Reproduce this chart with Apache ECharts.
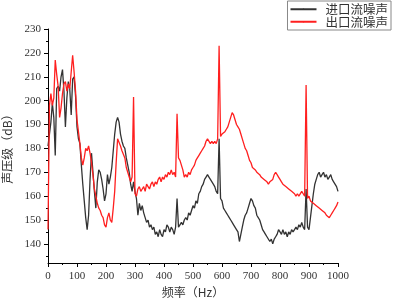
<!DOCTYPE html>
<html>
<head>
<meta charset="utf-8">
<script src="https://cdn.jsdelivr.net/npm/echarts@6/dist/echarts.min.js"></script>
<style>
  html, body { margin: 0; padding: 0; background: #fff; }
  #main { width: 393px; height: 300px; }
</style>
</head>
<body>
<div id="main"></div>
<script>
// 频率采样点 0~1000 Hz，步长 5
const freq = [];
for (let f = 0; f <= 1000; f += 5) freq.push(f);

// 进口流噪声 (dB)
const inletDb = [
  181,186,191,199,193,177,205,206,204,210, 213,204,189,201,208,205,194,209,210,202,
  189,184,182,173,165,158,151,146,152,167, 178,170,162,155,166,171,170,167,163,158,
  161,169,165,168,172,179,186,191,193,191, 186,183,181,180,176,173,170,165,162,166,
  162,159,152,157,154,156,153,151,149,150, 147,148,146,147,144,145,143,146,144,143,
  146,145,148,147,145,147,146,144,147,159, 147,148,149,148,150,151,150,153,152,154,
  156,155,158,157,161,162,164,165,167,168, 169,168,167,167,165,164,162,161,184,159,
  158,155,154,153,152,151,150,149,148,148, 146,145,141,144,147,150,152,153,155,157,
  159,158,156,155,152,151,150,148,146,145, 144,143,143,141,142,140,142,143,144,146,
  145,144,146,144,145,143,145,144,146,145, 146,147,146,148,147,149,147,146,163,147,
  146,151,156,161,165,167,169,170,168,169, 170,168,169,167,168,169,167,166,166,164,
  162
];

// 出口流噪声 (dB)
const outletDb = [
  146,198,203,198,201,217,211,206,193,197, 203,207,208,204,207,205,212,219,212,204,
  192,187,182,176,173,176,180,179,181,178, 174,169,163,160,157,155,154,152,151,148,
  147,151,153,150,149,155,162,174,184,184, 181,179,179,176,172,170,168,166,168,201.5,
  161,160,163,164,162,163,164,162,165,164, 163,165,166,164,166,165,167,168,166,168,
  167,169,168,170,169,171,169,170,168,194.5, 176,175,175,171,168,169,168,170,169,171,
  172,173,175,176,177,178,179,180,181,183, 184,184,182,183,182,183,182,184,223,185,
  186,186,187,188,189,191,193,195,194,192, 190,189,188,186,184,182,180,179,177,175,
  174,172,172,171,170,170,169,168,168,167, 167,166,165,166,166,167,169,170,169,168,
  167,166,165,165,164,164,163,163,162,162, 161,160,161,160,160,162,161,160,206.5,159,
  160,158,158,157,157,156,156,155,155,154, 154,153,152,152,151,152,153,154,155,156,
  157.5
];

// 坐标轴刻度
const yMajor = [140, 150, 160, 170, 180, 190, 200, 210, 220, 230];
const yMinor = [135, 145, 155, 165, 175, 185, 195, 205, 215, 225];

const serif = 'Liberation Serif';
const cjk = 'Noto Sans CJK SC';

const chart = echarts.init(document.getElementById('main'));
chart.setOption({
  animation: false,
  backgroundColor: '#fff',
  grid: {
    left: 48,
    top: 29,
    width: 290,
    height: 234,
    outerBoundsMode: 'none'
  },
  legend: {
    orient: 'vertical',
    right: 2,
    top: 1,
    itemWidth: 26,
    itemHeight: 2,
    itemGap: 0,
    padding: [2, 3, 2, 2],
    borderColor: '#888',
    borderWidth: 1,
    textStyle: {
      fontFamily: cjk,
      fontSize: 12.5,
      lineHeight: 12.5,
      color: '#333',
      padding: [0, 0, 0, 4]
    },
    data: ['进口流噪声', '出口流噪声']
  },
  xAxis: {
    type: 'value',
    min: 0,
    max: 1000,
    interval: 100,
    name: '频率（Hz）',
    nameLocation: 'middle',
    nameGap: 23,
    nameTextStyle: { fontFamily: cjk, fontSize: 12, color: '#333' },
    axisLine: { show: true, onZero: false, lineStyle: { color: '#000', width: 1 } },
    axisTick: { show: true, inside: false, length: 4, lineStyle: { color: '#000' } },
    minorTick: { show: true, splitNumber: 2, length: 2, lineStyle: { color: '#000' } },
    axisLabel: {
      margin: 8,
      fontFamily: serif,
      fontSize: 11,
      color: '#333',
      formatter: v => String(v)
    },
    splitLine: { show: false }
  },
  yAxis: [
    {
      type: 'value',
      min: 132,
      max: 230,
      name: '声压级（dB）',
      nameLocation: 'middle',
      nameGap: 33,
      nameTextStyle: { fontFamily: cjk, fontSize: 12, color: '#333' },
      axisLine: { show: true, onZero: false, lineStyle: { color: '#000', width: 1 } },
      axisTick: { show: true, inside: false, length: 4, customValues: yMajor, lineStyle: { color: '#000' } },
      axisLabel: { margin: 7, customValues: yMajor, fontFamily: serif, fontSize: 11, color: '#333' },
      splitLine: { show: false }
    },
    {
      type: 'value',
      min: 132,
      max: 230,
      position: 'left',
      axisLine: { show: false },
      axisTick: { show: true, inside: false, length: 2, customValues: yMinor, lineStyle: { color: '#000' } },
      axisLabel: { show: false },
      splitLine: { show: false }
    }
  ],
  series: [
    {
      name: '进口流噪声',
      type: 'line',
      symbol: 'none',
      lineStyle: { color: '#333333', width: 1.3 },
      itemStyle: { color: '#333333' },
      data: freq.map((f, i) => [f, inletDb[i]])
    },
    {
      name: '出口流噪声',
      type: 'line',
      symbol: 'none',
      lineStyle: { color: '#ff1f1f', width: 1.3 },
      itemStyle: { color: '#ff1f1f' },
      data: freq.map((f, i) => [f, outletDb[i]])
    }
  ]
});
</script>
</body>
</html>
